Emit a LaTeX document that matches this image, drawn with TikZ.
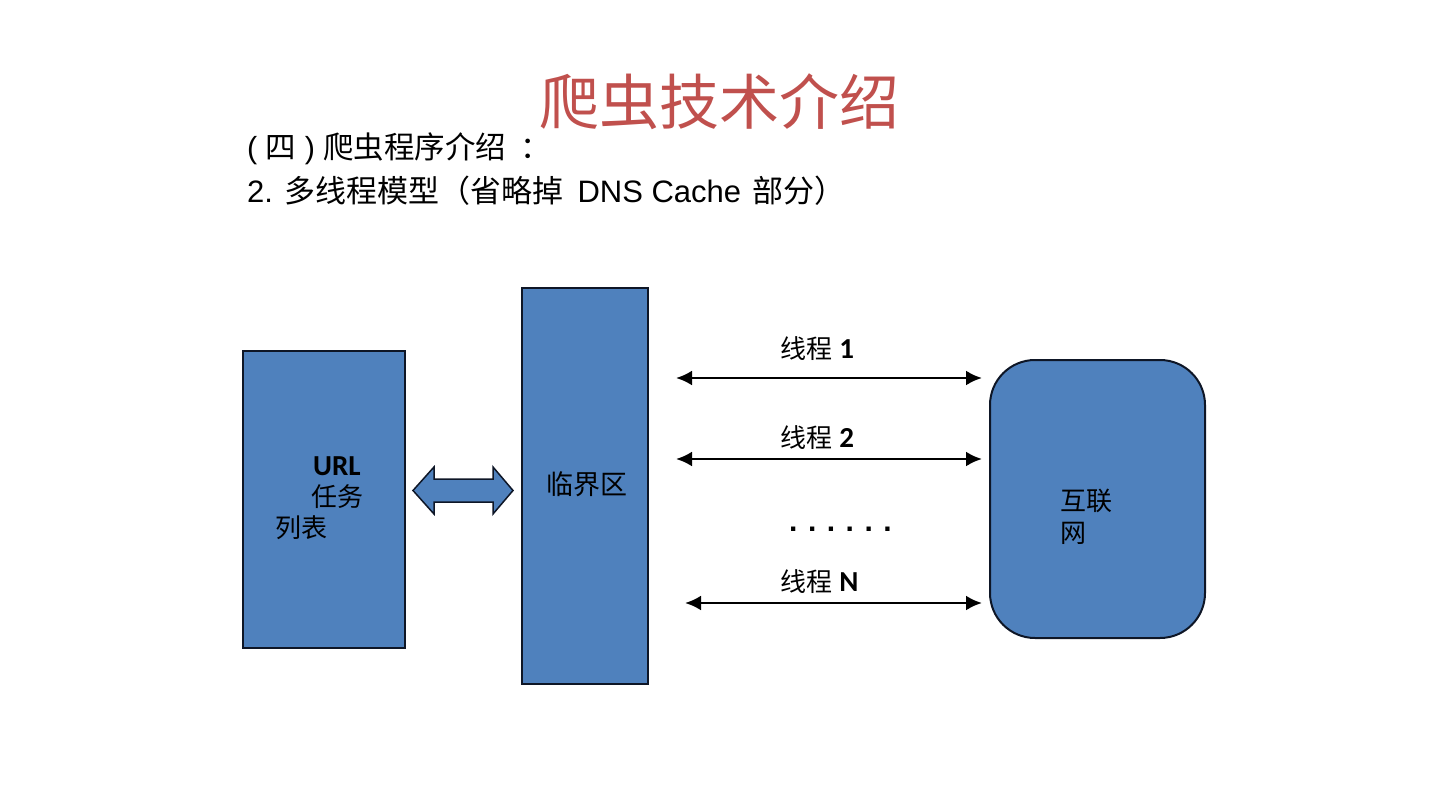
\documentclass[tikz,border=0pt]{standalone}
\usepackage{fontspec}
\usetikzlibrary{shapes.arrows,arrows.meta}
\setmainfont{Liberation Sans}
\newfontfamily\cjk{Noto Sans CJK SC}
\newfontfamily\carl{Carlito}
\definecolor{titlered}{HTML}{C0504D}
\definecolor{boxblue}{HTML}{4F81BD}
\definecolor{edge}{HTML}{0E1626}
\begin{document}
\begin{tikzpicture}[x=1pt,y=-1pt,
  bluebox/.style={draw=edge,fill=boxblue,line width=2pt,inner sep=0pt},
  lbl/.style={inner sep=0pt,anchor=base west,font=\fontsize{26}{26}\selectfont},
  thread/.style={line width=2.6pt,{Latex[length=16pt,width=15pt]}-{Latex[length=16pt,width=15pt]}}]
\useasboundingbox (0,0) rectangle (1440,810);
% title
\node[inner sep=0pt,anchor=base west,text=titlered,font=\cjk\fontsize{60}{60}\selectfont] (title) at (539,125) {爬虫技术介绍};
\node[inner sep=0pt,anchor=base west,font=\fontsize{30.5}{30.5}\selectfont] (sub1) at (247,159) {( {\cjk 四} ) {\cjk 爬虫程序介绍}\hspace{14pt}{\cjk ：}};
\node[inner sep=0pt,anchor=base west,font=\fontsize{31}{31}\selectfont] (sub2) at (247,203) {2. {\cjk 多线程模型（省略掉}\hspace{14pt}DNS Cache\hspace{3pt} {\cjk 部分）}};
% boxes
\node[bluebox,minimum width=162pt,minimum height=297pt] (url) at (324,499.5) {};
\node[bluebox,minimum width=126pt,minimum height=396pt] (crit) at (585,486) {};
\node[bluebox,minimum width=215pt,minimum height=278pt,rounded corners=45pt] (net) at (1097.5,499) {};
% box texts
\node[lbl,font=\carl\bfseries\fontsize{29}{29}\selectfont] (urlt1) at (313,475) {URL};
\node[lbl,font=\cjk\fontsize{26}{26}\selectfont] (urlt2) at (311,506) {任务};
\node[lbl,font=\cjk\fontsize{26}{26}\selectfont] (urlt3) at (275,537) {列表};
\node[lbl,font=\cjk\fontsize{27}{27}\selectfont] (critt) at (546,494) {临界区};
\node[lbl,font=\cjk\fontsize{26}{26}\selectfont] (nett1) at (1060,510) {互联};
\node[lbl,font=\cjk\fontsize{26}{26}\selectfont] (nett2) at (1060,542) {网};
% block double arrow
\draw[draw=edge,fill=boxblue,line width=1.5pt,line join=miter]
  (413,490.5) -- (434,467) -- (434,479) -- (493,479) -- (493,467) -- (513,490.5)
  -- (493,514) -- (493,502) -- (434,502) -- (434,514) -- cycle;
% thread arrows
\coordinate (t1l) at (676,378); \coordinate (t1r) at (982,378);
\coordinate (t2l) at (676,459); \coordinate (t2r) at (982,459);
\coordinate (tnl) at (685,603); \coordinate (tnr) at (982,603);
\draw[thread] (t1l) -- (t1r);
\draw[thread] (t2l) -- (t2r);
\draw[thread] (tnl) -- (tnr);
\node[lbl] (l1) at (780,358) {{\cjk 线程} {\carl\bfseries\fontsize{29}{29}\selectfont 1}};
\node[lbl] (l2) at (780,447) {{\cjk 线程} {\carl\bfseries\fontsize{29}{29}\selectfont 2}};
\node[lbl] (ln) at (780,591) {{\cjk 线程} {\carl\bfseries\fontsize{29}{29}\selectfont N}};
\node[lbl,font=\bfseries\fontsize{30}{30}\selectfont] (dots) at (789,531)
  {.\hspace{10.5pt}.\hspace{10.5pt}.\hspace{10.5pt}.\hspace{10.5pt}.\hspace{10.5pt}.};
\end{tikzpicture}
\end{document}
